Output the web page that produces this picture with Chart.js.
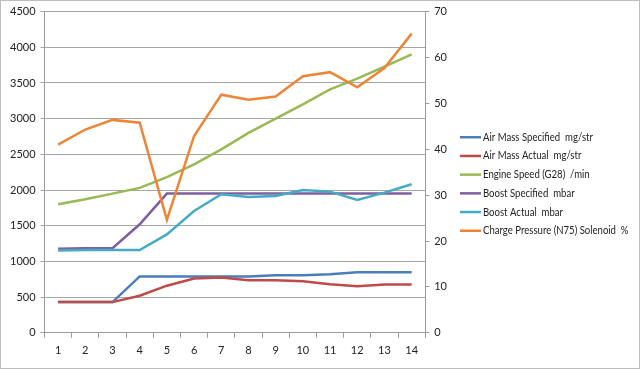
<!DOCTYPE html>
<html>
<head>
<meta charset="utf-8">
<script src="https://cdn.jsdelivr.net/npm/chart.js@4/dist/chart.umd.min.js"></script>
<style>
  html, body { margin: 0; padding: 0; background: #fff; }
  #wrap { width: 640px; height: 369px; position: relative; }
</style>
</head>
<body>
<div id="wrap"><canvas id="mylinegraph"></canvas></div>
<script>
// categories (log samples)
var categories = ['1','2','3','4','5','6','7','8','9','10','11','12','13','14'];

// left axis series
var airMassSpecified = [430, 430, 430, 790, 790, 790, 790, 790, 805, 805, 820, 850, 850, 850];
var airMassActual = [430, 430, 430, 520, 660, 760, 775, 735, 735, 722, 680, 652, 675, 675];
var engineSpeed = [1800, 1870, 1950, 2030, 2180, 2360, 2570, 2800, 3000, 3200, 3410, 3560, 3730, 3900];
var boostSpecified = [1177, 1185, 1186, 1520, 1950, 1950, 1950, 1950, 1950, 1950, 1950, 1950, 1950, 1950];
var boostActual = [1153, 1160, 1160, 1160, 1378, 1706, 1941, 1903, 1917, 2001, 1978, 1860, 1964, 2081];

// right axis series
var chargePressure = [41.0, 44.3, 46.4, 45.8, 24.6, 42.9, 51.9, 50.8, 51.5, 55.9, 56.8, 53.5, 57.7, 65.2];

var seriesLabels = ['Air Mass Specified  mg/str', 'Air Mass Actual  mg/str', 'Engine Speed (G28)  /min',
  'Boost Specified  mbar', 'Boost Actual  mbar', 'Charge Pressure (N75) Solenoid  %'];
var seriesColors = ['#4A7EBB', '#BE4B48', '#98B954', '#7D60A0', '#46AAC5', '#EE8536'];
var seriesData = [airMassSpecified, airMassActual, engineSpeed, boostSpecified, boostActual, chargePressure];

var datasets = [];
for (var i = 0; i < seriesData.length; i++) {
  datasets.push({
    label: seriesLabels[i],
    data: seriesData[i],
    borderColor: seriesColors[i],
    backgroundColor: seriesColors[i],
    borderWidth: 2.5,
    pointRadius: 0,
    tension: 0,
    fill: false,
    order: seriesData.length - i,
    yAxisID: i == 5 ? 'y1' : 'y'
  });
}

var fontFam = 'Lato, "Open Sans", sans-serif';

// excel style legend on the right + outer border
var sideLegend = {
  id: 'sideLegend',
  afterDraw: function(chart) {
    var c = chart.ctx;
    var ds = chart.data.datasets;
    var x = 460;
    var step = 18.7;
    var y = chart.height / 2 - step * (ds.length - 1) / 2 - 0.5;
    c.save();
    c.font = '11px ' + fontFam;
    c.textBaseline = 'middle';
    c.fillStyle = '#222';
    for (var i = 0; i < ds.length; i++) {
      c.strokeStyle = ds[i].borderColor;
      c.lineWidth = 2.5;
      c.beginPath();
      c.moveTo(x, y + i * step);
      c.lineTo(x + 21, y + i * step);
      c.stroke();
      // calibri is narrower than lato, squeeze a bit
      var w = c.measureText(ds[i].label).width;
      c.fillText(ds[i].label, x + 23, y + i * step, w * 0.87);
    }
    c.strokeStyle = '#bdbdbd';
    c.lineWidth = 1;
    c.strokeRect(0.5, 0.5, chart.width - 1, chart.height - 1);
    c.restore();
  }
};

var ctx = document.getElementById('mylinegraph');
var LineGraph = new Chart(ctx, {
  type: 'line',
  data: { labels: categories, datasets: datasets },
  plugins: [sideLegend],
  options: {
    responsive: true,
    maintainAspectRatio: false,
    animation: false,
    layout: { padding: { top: 9, left: 5, right: 188, bottom: 6 } },
    plugins: {
      tooltip: { enabled: false },
      legend: { display: false }
    },
    scales: {
      x: {
        offset: true,
        grid: { offset: true, drawOnChartArea: false, color: '#9a9a9a', tickLength: 5 },
        border: { color: '#9a9a9a' },
        ticks: { color: '#222', font: { family: fontFam, size: 11 }, padding: 6, maxRotation: 0 }
      },
      y: {
        position: 'left',
        min: 0, max: 4500,
        ticks: {
          stepSize: 500, color: '#222', font: { family: fontFam, size: 11 }, padding: 5,
          callback: function(v) { return String(v); }
        },
        grid: { color: '#a6a6a6', tickLength: 4 },
        border: { color: '#9a9a9a' }
      },
      y1: {
        position: 'right',
        min: 0, max: 70,
        ticks: { stepSize: 10, color: '#222', font: { family: fontFam, size: 11 }, padding: 5 },
        grid: { drawOnChartArea: false, color: '#9a9a9a', tickLength: 4 },
        border: { color: '#9a9a9a' }
      }
    }
  }
});
</script>
</body>
</html>
